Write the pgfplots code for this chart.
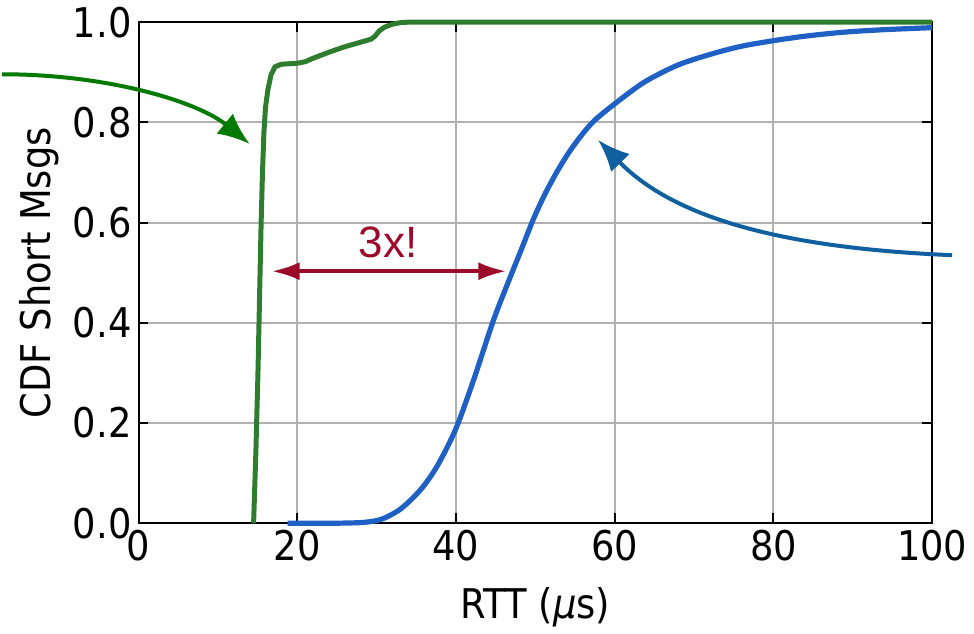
\documentclass[border=0pt]{standalone}
\usepackage{fontspec}
\setmainfont{DejaVu Sans Condensed}
\newfontfamily\arialfont{Liberation Sans}
\usepackage{pgfplots}
\pgfplotsset{compat=1.18}
\usetikzlibrary{arrows.meta}
\definecolor{lgreen}{HTML}{2E7D2E}
\definecolor{agreen}{HTML}{007A00}
\definecolor{lblue}{HTML}{1F60C4}
\definecolor{ablue}{HTML}{1060A0}
\definecolor{ared}{HTML}{9B0A2A}
\definecolor{gridgray}{HTML}{B0B0B0}
\begin{document}
\begin{tikzpicture}[font=\fontsize{20.5}{24}\selectfont]
\begin{axis}[
scale only axis,
width=397.5pt,
height=251pt,
xmin=0, xmax=100,
ymin=0, ymax=1,
xtick={0,20,40,60,80,100},
ytick={0,0.2,0.4,0.6,0.8,1.0},
yticklabel style={/pgf/number format/.cd, fixed, fixed zerofill, precision=1},
/pgf/number format/assume math mode=true,
tick align=inside,
major tick length=5pt,
every tick/.style={black, line width=1pt},
axis line style={line width=1pt},
grid=major,
grid style={gridgray, line width=1pt},
xlabel={RTT (\textit{μ}s)},
ylabel={CDF Short Msgs},
xlabel style={yshift=-6pt},
ylabel style={yshift=0pt},
clip=false,
]

% short messages, green
\addplot[lgreen, line width=2.5pt, line join=round] coordinates {
(14.5,0) (14.8,0.15) (15.05,0.3) (15.25,0.45) (15.45,0.6) (15.62,0.7)
(15.8,0.78) (16.0,0.83) (16.3,0.865) (16.7,0.895) (17.2,0.911) (18,0.916)
(20,0.918) (21,0.921) (22,0.928) (24,0.94) (26,0.951) (28,0.96)
(29.3,0.966) (29.8,0.972) (30.3,0.982) (31,0.99) (32,0.996) (33,0.999)
(34,1) (100,1)
};

% blue
\addplot[lblue, line width=2.6pt, line join=round, smooth, tension=0.5] coordinates {
(18.8,0) (24,0.0002) (26,0.0005) (28.5,0.002) (30.6,0.008) (32.7,0.025) (34.2,0.045)
(35.8,0.072) (37.4,0.108) (38.9,0.152) (40.25,0.199) (42.35,0.292)
(44.65,0.402) (46.3,0.47) (48.4,0.553) (49.7,0.605) (51.15,0.655)
(52.6,0.698) (54.1,0.737) (55.7,0.772) (57.4,0.803) (60,0.837)
(63.7,0.88) (67.9,0.914) (72.1,0.936) (76,0.952) (80,0.963)
(84,0.972) (88.9,0.980) (94,0.985) (100,0.989)
};

% annotations
\draw[agreen, line width=2pt, -{Latex[length=16pt, width=13pt]}]
  (axis cs:-17.2,0.896) .. controls (axis cs:-3.8,0.896) and (axis cs:7.5,0.841) .. (axis cs:14.0,0.757);
\draw[ablue, line width=2pt, -{Latex[length=16pt, width=13pt]}]
  (axis cs:102.5,0.535) .. controls (axis cs:83.0,0.548) and (axis cs:68,0.600) .. (axis cs:57.9,0.765);
\draw[ared, line width=2pt, {Latex[length=14pt, width=9pt]}-{Latex[length=14pt, width=9pt]}]
  (axis cs:16.77,0.503) -- (axis cs:46.35,0.503);
\node[ared, font=\arialfont\fontsize{22}{26}\selectfont] at (axis cs:31.45,0.561) {3x!};
\end{axis}
\end{tikzpicture}
\end{document}
